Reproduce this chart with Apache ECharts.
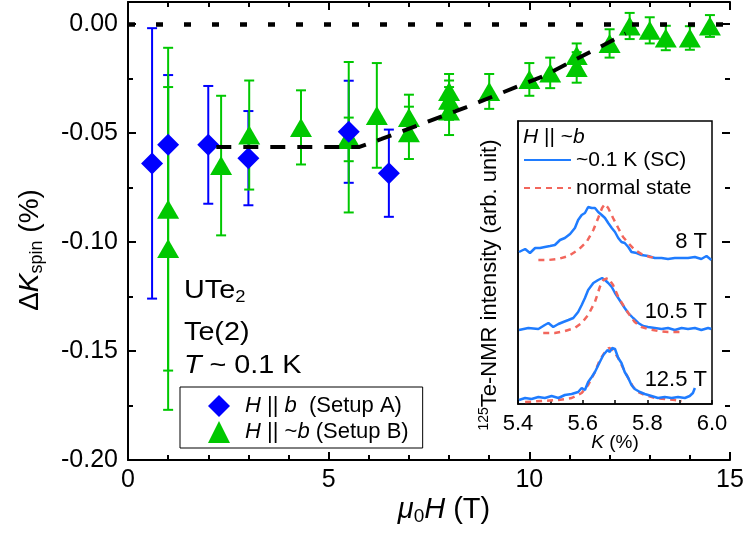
<!DOCTYPE html>
<html>
<head>
<meta charset="utf-8">
<script src="https://cdn.jsdelivr.net/npm/echarts@6.0.0/dist/echarts.min.js"></script>
<style>
  html, body { margin: 0; padding: 0; background: #fff; }
  #chart { width: 747px; height: 536px; }
</style>
</head>
<body>
<div id="chart"></div>
<script>
  // main panel: Setup A (H || b)
  var setupAField = [0.6, 1.0, 2.0, 3.0, 5.5, 6.5];
  var setupAK = [-0.064, -0.0555, -0.0555, -0.0616, -0.0495, -0.0685];
  var setupAErr = [0.062, 0.032, 0.027, 0.0216, 0.0234, 0.020];

  // main panel: Setup B (H || ~b)
  var setupBField = [1.0, 1.0, 2.32, 3.02, 4.31, 5.5, 5.5, 6.2, 7.0, 7.0, 8.0, 8.0, 8.0,
    9.0, 10.0, 10.52, 11.18, 11.18, 12.0, 12.5, 13.0, 13.4, 14.0, 14.5];
  var setupBK = [-0.085, -0.103, -0.065, -0.051, -0.0475, -0.052, -0.053, -0.042, -0.043, -0.050, -0.031, -0.035, -0.040,
    -0.031, -0.0255, -0.0225, -0.0145, -0.020, -0.009, -0.001, -0.003, -0.0065, -0.0065, -0.001];
  var setupBErr = [0.074, 0.074, 0.032, 0.025, 0.017, 0.0345, 0.010, 0.024, 0.0105, 0.012, 0.008, 0.009, 0.011,
    0.008, 0.0075, 0.007, 0.0055, 0.007, 0.0065, 0.006, 0.006, 0.0056, 0.0054, 0.005];

  // dashed guide line
  var guideField = [2.2, 5.75, 6.32, 8.42, 10.37, 12.4];
  var guideK = [-0.0565, -0.0565, -0.0528, -0.0383, -0.0238, -0.0045];
  var zeroLevel = 0;

  // axis ticks
  var xTicks = [0, 15, 5];
  var yTicks = [-0.20, 0.01, 0.05];
  var insetTicks = [5.4, 6.0, 0.1];

  // inset spectra (K in %, intensity in arb. unit, offsets included)
  var sc8K = [5.403,5.422,5.437,5.453,5.468,5.483,5.499,5.514,5.530,5.545,5.561,5.576,5.586,5.597,5.607,5.617,5.628,5.638,5.648,5.659,5.669,5.679,5.690,5.700,5.710,5.720,5.730,5.741,5.751,5.767,5.782,5.802,5.823,5.844,5.864,5.885,5.906,5.926,5.947,5.967,5.983,5.998];
  var sc8I = [152,155,151,156,156,157,158,159,164,166,170,176,184,189,191,197,196,196,192,189,186,181,176,172,166,162,161,157,152,151,149,148,146,146,145,146,146,146,147,145,148,144];
  var ns8K = [5.463,5.493,5.524,5.556,5.586,5.612,5.633,5.648,5.660,5.669,5.679,5.694,5.710,5.725,5.741,5.761,5.782,5.808,5.833];
  var ns8I = [144,144,145,148,154,162,174,186,196,200,196,186,176,167,161,154,150,147,146];
  var sc105K = [5.403,5.432,5.463,5.483,5.494,5.509,5.525,5.540,5.556,5.571,5.586,5.597,5.607,5.617,5.633,5.648,5.660,5.669,5.679,5.690,5.700,5.710,5.720,5.730,5.741,5.756,5.772,5.787,5.802,5.823,5.844,5.864,5.885,5.906,5.926,5.947,5.967,5.988,5.998];
  var sc105I = [74,76,75,79,81,77,80,82,84,86,92,99,106,114,121,124,126,124,121,117,111,106,101,96,91,86,81,78,77,76,75,76,74,76,75,76,74,76,75];
  var ns105K = [5.478,5.514,5.545,5.576,5.597,5.617,5.638,5.653,5.664,5.679,5.694,5.710,5.725,5.741,5.761,5.782,5.802,5.833,5.864,5.906];
  var ns105I = [71,71,73,76,81,89,102,117,124,126,119,107,99,91,82,77,75,73,72,72];
  var sc125K = [5.403,5.422,5.442,5.463,5.483,5.504,5.525,5.545,5.566,5.586,5.597,5.607,5.617,5.628,5.638,5.653,5.664,5.677,5.684,5.691,5.700,5.710,5.720,5.730,5.741,5.751,5.761,5.777,5.792,5.813,5.833,5.854,5.875,5.895,5.916,5.931,5.941,5.947];
  var sc125I = [4,6,5,7,6,8,6,9,10,12,16,14,22,27,32,42,49,54,52,56,55,46,41,32,26,19,15,12,10,8,6,7,6,7,6,8,11,16];
  var ns125K = [5.422,5.473,5.525,5.566,5.597,5.617,5.638,5.653,5.669,5.681,5.694,5.710,5.725,5.741,5.756,5.772,5.792,5.823,5.854,5.885,5.906];
  var ns125I = [2,3,4,6,11,19,32,44,52,56,54,46,36,26,17,12,9,6,5,4,3];
  var fieldLabels = ["8 T", "10.5 T", "12.5 T"];

  var FONT = "'Liberation Sans', Arial, sans-serif";
  var BLUE = "#0000ff";
  var GREEN = "#00c800";
  var SC = "#1f7cff";
  var NS = "#f2665c";

  function zip(a, b) {
    return a.map(function (v, i) { return [v, b[i]]; });
  }

  function errorBars(xs, ys, errs, color, z) {
    return {
      type: "custom",
      z: z,
      silent: true,
      xAxisIndex: 0,
      yAxisIndex: 0,
      data: xs.map(function (x, i) { return [x, ys[i] - errs[i], ys[i] + errs[i]]; }),
      encode: { x: 0, y: [1, 2] },
      renderItem: function (params, api) {
        var lo = api.coord([api.value(0), api.value(1)]);
        var hi = api.coord([api.value(0), api.value(2)]);
        var w = 5;
        var st = { stroke: color, lineWidth: 2, fill: null };
        return {
          type: "group",
          children: [
            { type: "line", shape: { x1: lo[0], y1: lo[1], x2: hi[0], y2: hi[1] }, style: st },
            { type: "line", shape: { x1: lo[0] - w, y1: lo[1], x2: lo[0] + w, y2: lo[1] }, style: st },
            { type: "line", shape: { x1: hi[0] - w, y1: hi[1], x2: hi[0] + w, y2: hi[1] }, style: st }
          ]
        };
      }
    };
  }

  function spectrum(name, ks, is, color, dashed) {
    return {
      name: name,
      type: "line",
      xAxisIndex: 2,
      yAxisIndex: 4,
      data: zip(ks, is),
      showSymbol: false,
      symbol: "none",
      z: 12,
      lineStyle: { color: color, width: 2.5, type: dashed ? [6, 5] : "solid" },
      itemStyle: { color: color }
    };
  }

  function mainX(pos, labels) {
    return {
      type: "value", gridIndex: 0, position: pos,
      min: xTicks[0], max: xTicks[1], interval: xTicks[2],
      axisLine: { show: true, onZero: false, lineStyle: { color: "#000", width: 2 } },
      axisTick: { show: true, inside: true, length: 8, lineStyle: { color: "#000", width: 2 } },
      minorTick: { show: true, splitNumber: 5, length: 5, lineStyle: { color: "#000", width: 2 } },
      axisLabel: { show: labels, color: "#000", fontSize: 25, fontFamily: FONT, margin: 8 },
      splitLine: { show: false }
    };
  }

  function mainY(pos, interval, len, labels) {
    return {
      type: "value", gridIndex: 0, position: pos,
      min: yTicks[0], max: yTicks[1], interval: interval,
      axisLine: { show: labels, onZero: false, lineStyle: { color: "#000", width: 2 } },
      axisTick: { show: true, inside: true, length: len, lineStyle: { color: "#000", width: 2 } },
      axisLabel: {
        show: labels, color: "#000", fontSize: 25, fontFamily: FONT, margin: 10,
        formatter: function (v) { return v > 0.001 ? "" : v.toFixed(2); }
      },
      splitLine: { show: false }
    };
  }

  var chart = echarts.init(document.getElementById("chart"));
  chart.setOption({
    animation: false,
    backgroundColor: "#fff",
    textStyle: { fontFamily: FONT },
    grid: [
      { left: 128, right: 17, top: 2, bottom: 76 },
      { left: 518, top: 121, width: 194, height: 283, show: true, z: 10,
        backgroundColor: "#fff", borderColor: "#000", borderWidth: 1.5 }
    ],
    xAxis: [
      mainX("bottom", true),
      mainX("top", false),
      {
        type: "value", gridIndex: 1, position: "bottom",
        min: insetTicks[0], max: insetTicks[1], interval: insetTicks[2],
        axisLine: { show: true, onZero: false, lineStyle: { color: "#000", width: 1.5 } },
        axisTick: { show: true, inside: true, length: 4, lineStyle: { color: "#000", width: 1.5 } },
        axisLabel: { color: "#000", fontSize: 22, fontFamily: FONT, margin: 9,
          formatter: function (v) { return Math.round(v * 10) % 2 === 0 ? v.toFixed(1) : ""; } },
        splitLine: { show: false },
        z: 12
      }
    ],
    yAxis: [
      mainY("left", yTicks[2], 8, true),
      mainY("left", yTicks[2] / 2, 5, false),
      mainY("right", yTicks[2], 8, false),
      mainY("right", yTicks[2] / 2, 5, false),
      {
        type: "value", gridIndex: 1, min: 0, max: 283,
        axisLine: { show: true, onZero: false, lineStyle: { color: "#000", width: 1.5 } },
        axisTick: { show: false }, axisLabel: { show: false }, splitLine: { show: false },
        z: 12
      }
    ],
    legend: [
      {
        data: ["H || b (Setup A)", "H || ~b (Setup B)"],
        orient: "vertical",
        left: 180, top: 387,
        padding: [7, 14, 4, 28],
        itemGap: 2,
        itemWidth: 22, itemHeight: 22,
        borderColor: "#000", borderWidth: 1, backgroundColor: "#fff",
        textStyle: {
          color: "#000", fontSize: 22, fontFamily: FONT, lineHeight: 24, padding: [0, 0, 0, 10],
          rich: { i: { fontStyle: "italic", fontSize: 22, fontFamily: FONT, color: "#000", lineHeight: 24 } }
        },
        formatter: function (name) {
          return name.indexOf("~") < 0 ? "{i|H} || {i|b}  (Setup A)" : "{i|H} || ~{i|b} (Setup B)";
        }
      },
      {
        data: ["~0.1 K (SC)", "normal state"],
        orient: "vertical",
        left: 518, top: 143,
        padding: [5, 5, 5, 5],
        itemGap: 4,
        itemWidth: 47, itemHeight: 14,
        z: 14,
        itemStyle: { opacity: 0 },
        textStyle: { color: "#000", fontSize: 21, fontFamily: FONT, lineHeight: 24 }
      }
    ],
    graphic: [
      { type: "text", x: 184, y: 291, z: 20, scaleX: 1.15,
        style: { text: "{a|UTe}{s|2}", verticalAlign: "middle", fill: "#000",
          rich: { a: { fontSize: 25, fontFamily: FONT, lineHeight: 30 },
                  s: { fontSize: 16, fontFamily: FONT, lineHeight: 12, verticalAlign: "bottom" } } } },
      { type: "text", x: 184, y: 333, z: 20, scaleX: 1.15,
        style: { text: "Te(2)", font: "25px " + FONT, verticalAlign: "middle", fill: "#000" } },
      { type: "text", x: 184, y: 366, z: 20, scaleX: 1.15,
        style: { text: "{i|T} ~ 0.1 K", verticalAlign: "middle", fill: "#000",
          rich: { i: { fontStyle: "italic", fontSize: 25, fontFamily: FONT } }, font: "25px " + FONT } },
      { type: "text", x: 30, y: 250, rotation: Math.PI / 2, z: 20,
        style: { text: "{n|Δ}{i|K}{s|spin}{n| (%)}", align: "center", verticalAlign: "middle", fill: "#000",
          rich: { n: { fontSize: 28, fontFamily: FONT, lineHeight: 32 },
                  i: { fontSize: 28, fontFamily: FONT, fontStyle: "italic", lineHeight: 32 },
                  s: { fontSize: 18, fontFamily: FONT, lineHeight: 14, verticalAlign: "bottom" } } } },
      { type: "text", x: 444, y: 510, z: 20,
        style: { text: "{i|μ}{s|0}{i|H}{n| (T)}", align: "center", verticalAlign: "middle", fill: "#000",
          rich: { n: { fontSize: 29, fontFamily: FONT, lineHeight: 32 },
                  i: { fontSize: 29, fontFamily: FONT, fontStyle: "italic", lineHeight: 32 },
                  s: { fontSize: 19, fontFamily: FONT, lineHeight: 14, verticalAlign: "bottom" } } } },
      { type: "text", x: 490, y: 285, rotation: Math.PI / 2, z: 20,
        style: { text: "{p|125}{n|Te-NMR intensity (arb. unit)}", align: "center", verticalAlign: "middle", fill: "#000",
          rich: { n: { fontSize: 22, fontFamily: FONT, lineHeight: 26 },
                  p: { fontSize: 14, fontFamily: FONT, lineHeight: 14, verticalAlign: "top" } } } },
      { type: "text", x: 615, y: 443, z: 20,
        style: { text: "{i|K} (%)", align: "center", verticalAlign: "middle", fill: "#000", font: "19px " + FONT,
          rich: { i: { fontStyle: "italic", fontSize: 19, fontFamily: FONT } } } },
      { type: "text", x: 523, y: 137, z: 20,
        style: { text: "{i|H} || ~{i|b}", verticalAlign: "middle", fill: "#000", font: "21px " + FONT,
          rich: { i: { fontStyle: "italic", fontSize: 21, fontFamily: FONT } } } },
      { type: "text", x: 707, y: 242, z: 20,
        style: { text: fieldLabels[0], font: "22px " + FONT, align: "right", verticalAlign: "middle", fill: "#000" } },
      { type: "text", x: 707, y: 312, z: 20,
        style: { text: fieldLabels[1], font: "22px " + FONT, align: "right", verticalAlign: "middle", fill: "#000" } },
      { type: "text", x: 707, y: 380, z: 20,
        style: { text: fieldLabels[2], font: "22px " + FONT, align: "right", verticalAlign: "middle", fill: "#000" } }
    ],
    series: [
      errorBars(setupAField, setupAK, setupAErr, BLUE, 2),
      errorBars(setupBField, setupBK, setupBErr, GREEN, 3),
      {
        name: "H || ~b (Setup B)", type: "scatter", z: 4,
        symbol: "triangle", symbolSize: [22, 19],
        itemStyle: { color: GREEN, opacity: 1 },
        data: zip(setupBField, setupBK)
      },
      {
        name: "H || b (Setup A)", type: "scatter", z: 5,
        symbol: "diamond", symbolSize: [22, 22],
        itemStyle: { color: BLUE, opacity: 1 },
        data: zip(setupAField, setupAK)
      },
      {
        type: "line", z: 6, silent: true, symbol: "none",
        data: zip(guideField, guideK),
        lineStyle: { color: "#000", width: 4, type: [15, 12] },
        markLine: {
          silent: true, symbol: "none", label: { show: false },
          lineStyle: { color: "#000", width: 4.5, type: [7, 21] },
          data: [{ yAxis: zeroLevel }]
        }
      },
      spectrum("~0.1 K (SC)", sc8K, sc8I, SC, false),
      spectrum("normal state", ns8K, ns8I, NS, true),
      spectrum("~0.1 K (SC)", sc105K, sc105I, SC, false),
      spectrum("normal state", ns105K, ns105I, NS, true),
      spectrum("normal state", ns125K, ns125I, NS, true),
      spectrum("~0.1 K (SC)", sc125K, sc125I, SC, false)
    ]
  });
</script>
</body>
</html>
